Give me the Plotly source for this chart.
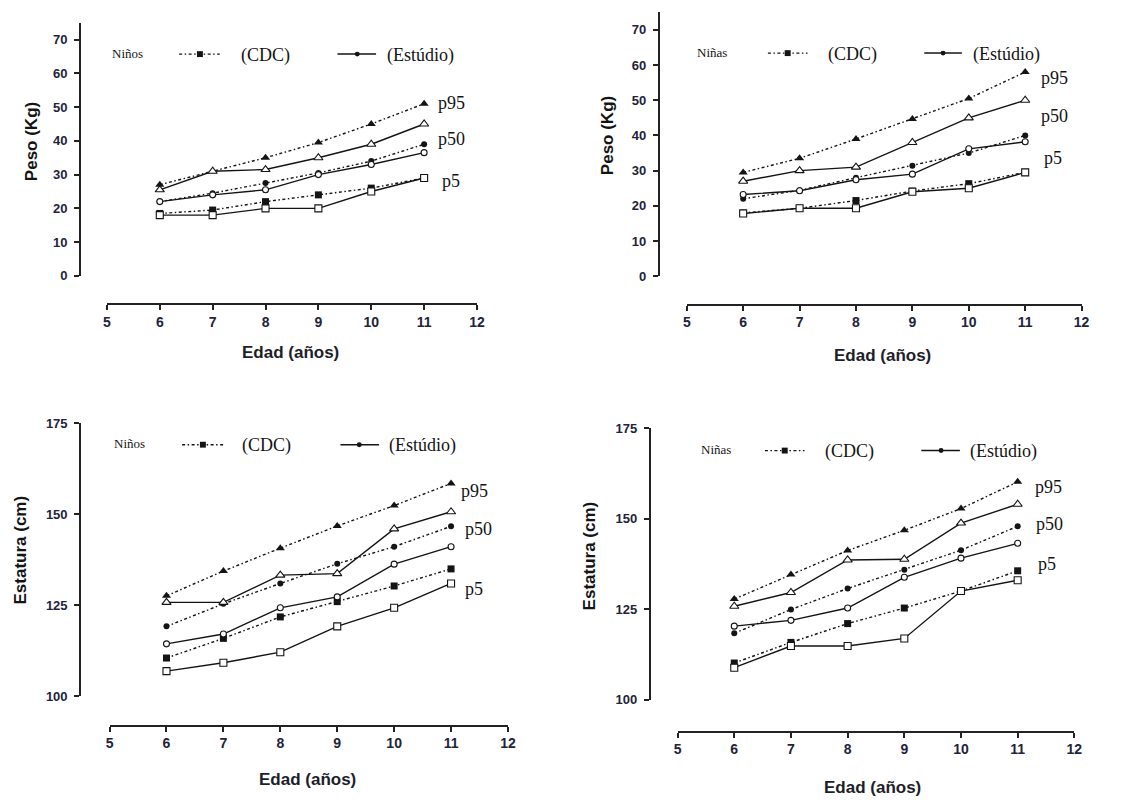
import plotly.graph_objects as go

W, H = 1145, 805

# ---------------- data ----------------
ages = [6, 7, 8, 9, 10, 11]
x_ticks = [5, 6, 7, 8, 9, 10, 11, 12]
peso_ticks = [0, 10, 20, 30, 40, 50, 60, 70]
estatura_ticks = [100, 125, 150, 175]
percentile_labels = ["p95", "p50", "p5"]

# Niños – Peso (Kg)
ninos_peso_cdc_p95 = [27, 31, 35, 39.5, 45, 51]
ninos_peso_est_p95 = [25.5, 31, 31.5, 35, 39, 45]
ninos_peso_cdc_p50 = [22, 24.5, 27.5, 30.5, 34, 39]
ninos_peso_est_p50 = [22, 24, 25.5, 30, 33, 36.5]
ninos_peso_cdc_p5 = [18.5, 19.5, 22, 24, 26, 29]
ninos_peso_est_p5 = [18, 18, 20, 20, 25, 29]

# Niñas – Peso (Kg)
ninas_peso_cdc_p95 = [29.5, 33.5, 39, 44.7, 50.5, 58]
ninas_peso_est_p95 = [27, 30, 31, 38, 45, 50]
ninas_peso_cdc_p50 = [22, 24.4, 28, 31.4, 35, 40]
ninas_peso_est_p50 = [23.2, 24.3, 27.4, 29, 36.2, 38.2]
ninas_peso_cdc_p5 = [18, 19.3, 21.5, 24.2, 26.3, 29.5]
ninas_peso_est_p5 = [17.8, 19.3, 19.3, 24, 25, 29.5]

# Niños – Estatura (cm)
ninos_est_cdc_p95 = [127.6, 134.4, 140.7, 146.8, 152.4, 158.5]
ninos_est_est_p95 = [125.8, 125.8, 133.3, 133.7, 146, 150.7]
ninos_est_cdc_p50 = [119.2, 125.4, 131, 136.4, 141.1, 146.7]
ninos_est_est_p50 = [114.4, 117.1, 124.3, 127.3, 136.3, 141.1]
ninos_est_cdc_p5 = [110.5, 115.9, 121.8, 126, 130.3, 135]
ninos_est_est_p5 = [106.9, 109.2, 112.1, 119.2, 124.3, 131]

# Niñas – Estatura (cm)
ninas_est_cdc_p95 = [127.8, 134.6, 141.2, 146.8, 152.8, 160.2]
ninas_est_est_p95 = [125.8, 129.6, 138.6, 138.8, 148.8, 154]
ninas_est_cdc_p50 = [118.3, 124.9, 130.7, 135.9, 141.3, 147.9]
ninas_est_est_p50 = [120.3, 121.9, 125.3, 133.8, 139.1, 143.2]
ninas_est_cdc_p5 = [110.1, 115.8, 121, 125.3, 130, 135.6]
ninas_est_est_p5 = [108.8, 114.8, 114.8, 116.9, 130, 133]

# ---------------- layout (pixel geometry) ----------------
def px(x):
    return x / W

def py(y):
    return 1 - y / H

panels = [
    dict(group="Niños", ytitle="Peso (Kg)", yrange=[0, 75], yticks=peso_ticks,
         cdc=[ninos_peso_cdc_p95, ninos_peso_cdc_p50, ninos_peso_cdc_p5],
         est=[ninos_peso_est_p95, ninos_peso_est_p50, ninos_peso_est_p5],
         xd=(104, 478), xline=303, yline=77, yd=(274, 16),
         ytitle_pos=(28, 137), xtitle_pos=(290, 352),
         leg=dict(y=48, lab=107, dot=(177, 218, 198), cdc=237, sol=(337, 376, 357), est=385),
         plab=[(437, 98), (437, 135), (441, 177)]),
    dict(group="Niñas", ytitle="Peso (Kg)", yrange=[0, 75], yticks=peso_ticks,
         cdc=[ninas_peso_cdc_p95, ninas_peso_cdc_p50, ninas_peso_cdc_p5],
         est=[ninas_peso_est_p95, ninas_peso_est_p50, ninas_peso_est_p5],
         xd=(690, 1089), xline=303.3, yline=661.7, yd=(274.3, 5.4),
         ytitle_pos=(610, 131), xtitle_pos=(888, 355),
         leg=dict(y=47, lab=698, dot=(772, 812, 792), cdc=831, sol=(930, 968, 949), est=977),
         plab=[(1046, 72), (1046, 111), (1049, 154)]),
    dict(group="Niños", ytitle="Estatura (cm)", yrange=[100, 175], yticks=estatura_ticks,
         cdc=[ninos_est_cdc_p95, ninos_est_cdc_p50, ninos_est_cdc_p5],
         est=[ninos_est_est_p95, ninos_est_est_p50, ninos_est_est_p5],
         xd=(106.7, 509.3), xline=732.3, yline=77, yd=(702.3, 424.3),
         ytitle_pos=(17, 553), xtitle_pos=(307, 787),
         leg=dict(y=446, lab=109, dot=(180, 222, 201), cdc=239, sol=(340, 379, 359), est=387),
         plab=[(460, 493), (464, 532), (464, 593)]),
    dict(group="Niñas", ytitle="Estatura (cm)", yrange=[100, 175], yticks=estatura_ticks,
         cdc=[ninas_est_cdc_p95, ninas_est_cdc_p50, ninas_est_cdc_p5],
         est=[ninas_est_est_p95, ninas_est_est_p50, ninas_est_est_p5],
         xd=(680.7, 1081.7), xline=738.3, yline=652.7, yd=(705.7, 429.3),
         ytitle_pos=(592, 559), xtitle_pos=(878, 795),
         leg=dict(y=452, lab=702, dot=(769, 809, 789), cdc=828, sol=(927, 966, 947), est=974),
         plab=[(1040, 489), (1041, 527), (1043, 568)]),
]

INK = "#141414"
AXC = "#222222"
TICKC = "#23233a"
CDC_DASH = "3px,2.5px,1.5px,2.5px"
cdc_symbols = ["triangle-up", "circle", "square"]
est_symbols = ["triangle-up", "circle", "square"]
sizes = [8, 6, 7]

fig = go.Figure()
annotations = []
shapes = []

for i, p in enumerate(panels, start=1):
    xa = "x" if i == 1 else f"x{i}"
    ya = "y" if i == 1 else f"y{i}"
    for k in range(3):
        fig.add_trace(go.Scatter(
            x=ages, y=p["cdc"][k], xaxis=xa, yaxis=ya, mode="lines+markers",
            line=dict(color=INK, width=1.4, dash=CDC_DASH),
            marker=dict(symbol=cdc_symbols[k], size=sizes[k], color=INK),
            cliponaxis=False, showlegend=False, hoverinfo="x+y"))
    for k in range(3):
        fig.add_trace(go.Scatter(
            x=ages, y=p["est"][k], xaxis=xa, yaxis=ya, mode="lines+markers",
            line=dict(color=INK, width=1.4),
            marker=dict(symbol=est_symbols[k], size=sizes[k], color="white",
                        line=dict(color=INK, width=1.1)),
            cliponaxis=False, showlegend=False, hoverinfo="x+y"))

    xkey = "xaxis" if i == 1 else f"xaxis{i}"
    ykey = "yaxis" if i == 1 else f"yaxis{i}"
    fig.layout[xkey] = dict(
        domain=[px(p["xd"][0]), px(p["xd"][1])], range=[5, 12],
        anchor="free", position=py(p["xline"]),
        tickvals=x_ticks, ticktext=[str(v) for v in x_ticks],
        showline=True, linewidth=2, linecolor=AXC,
        ticks="outside", ticklen=5, tickwidth=2, tickcolor=AXC,
        showgrid=False, zeroline=False, ticklabelstandoff=0,
        tickfont=dict(family="Liberation Sans", size=14, color=TICKC, weight="bold"),
        fixedrange=True)
    fig.layout[ykey] = dict(
        domain=[py(p["yd"][0]), py(p["yd"][1])], range=p["yrange"],
        anchor="free", position=px(p["yline"]),
        tickvals=p["yticks"], ticktext=[str(v) for v in p["yticks"]],
        showline=True, linewidth=2, linecolor=AXC,
        ticks="outside", ticklen=5, tickwidth=2, tickcolor=AXC,
        showgrid=False, zeroline=False, ticklabelstandoff=4,
        tickfont=dict(family="Liberation Sans", size=13, color=TICKC, weight="bold"),
        fixedrange=True)

    annotations.append(dict(
        x=px(p["ytitle_pos"][0]), y=py(p["ytitle_pos"][1]), xref="paper", yref="paper",
        text=p["ytitle"], textangle=-90, showarrow=False, xanchor="center", yanchor="middle",
        font=dict(family="Liberation Sans", size=17, color=INK, weight="bold")))
    annotations.append(dict(
        x=px(p["xtitle_pos"][0]), y=py(p["xtitle_pos"][1]), xref="paper", yref="paper",
        text="Edad (años)", showarrow=False, xanchor="center", yanchor="middle",
        font=dict(family="Liberation Sans", size=17, color="#1e1e2a", weight="bold")))

    lg = p["leg"]
    serif = "Liberation Serif"
    annotations.append(dict(
        x=px(lg["lab"]), y=py(lg["y"] - 1), xref="paper", yref="paper", text=p["group"],
        showarrow=False, xanchor="left", yanchor="middle",
        font=dict(family=serif, size=13, color=INK)))
    annotations.append(dict(
        x=px(lg["cdc"]), y=py(lg["y"] + 1), xref="paper", yref="paper", text="(CDC)",
        showarrow=False, xanchor="left", yanchor="middle",
        font=dict(family=serif, size=18, color=INK)))
    annotations.append(dict(
        x=px(lg["est"]), y=py(lg["y"] + 1), xref="paper", yref="paper", text="(Estúdio)",
        showarrow=False, xanchor="left", yanchor="middle",
        font=dict(family=serif, size=18, color=INK)))
    shapes.append(dict(type="line", xref="paper", yref="paper",
                       x0=px(lg["dot"][0]), x1=px(lg["dot"][1]), y0=py(lg["y"]), y1=py(lg["y"]),
                       line=dict(color=INK, width=1.4, dash=CDC_DASH)))
    mx = lg["dot"][2]
    shapes.append(dict(type="rect", xref="paper", yref="paper",
                       x0=px(mx - 3), x1=px(mx + 3), y0=py(lg["y"] + 3), y1=py(lg["y"] - 3),
                       fillcolor=INK, line=dict(width=0)))
    shapes.append(dict(type="line", xref="paper", yref="paper",
                       x0=px(lg["sol"][0]), x1=px(lg["sol"][1]), y0=py(lg["y"]), y1=py(lg["y"]),
                       line=dict(color=INK, width=1.5)))
    cx = lg["sol"][2]
    shapes.append(dict(type="circle", xref="paper", yref="paper",
                       x0=px(cx - 2.5), x1=px(cx + 2.5), y0=py(lg["y"] + 2.5), y1=py(lg["y"] - 2.5),
                       fillcolor=INK, line=dict(width=0)))

    for lab, (lx, ly) in zip(percentile_labels, p["plab"]):
        annotations.append(dict(
            x=px(lx), y=py(ly), xref="paper", yref="paper", text=lab,
            showarrow=False, xanchor="left", yanchor="middle",
            font=dict(family=serif, size=18, color=INK)))

fig.update_layout(
    width=W, height=H, autosize=False,
    margin=dict(l=0, r=0, t=0, b=0),
    paper_bgcolor="white", plot_bgcolor="white",
    showlegend=False,
    annotations=annotations, shapes=shapes,
    font=dict(family="Liberation Sans", color=INK),
)

fig.write_html(
    "out.html",
    config={"displayModeBar": False},
    post_script="document.body.style.margin='0';document.body.style.overflow='hidden';",
)
